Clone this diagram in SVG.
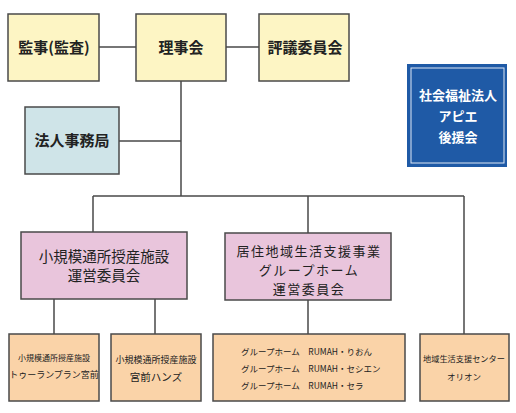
<svg xmlns="http://www.w3.org/2000/svg" width="516" height="413" viewBox="0 0 516 413">
<style>
.box{stroke:#4a4a4a;stroke-width:1.5}
.y{fill:#fdf5c4}.b{fill:#cfe4e8}.p{fill:#e9c5dc}.o{fill:#fad3a8}
.t{font-family:"Noto Sans CJK JP","Noto Sans",sans-serif;fill:#222;text-anchor:middle}
.big{font-size:15px;font-weight:bold}
.mid{font-size:14.5px}
.mid2{font-size:13px;letter-spacing:1.5px}
.sm{font-size:8.5px}
.w{fill:#fff;font-size:13px;font-weight:bold}
.ln{stroke:#4a4a4a;stroke-width:1.5;fill:none}
</style>
<rect width="516" height="413" fill="#fff"/>
<g id="connectors">
<path class="ln" d="M99 47H136M226 47H259M181 81V196M119 141H181M93 196H464M93 196V232M308 196V233M464 196V334M54 299V334M155 299V334M308 300V334"/>
</g>
<g id="kanji"><rect class="box y" x="8" y="14" width="91" height="67"/><text class="t big" x="54" y="53">監事(監査)</text></g>
<g id="rijikai"><rect class="box y" x="136" y="14" width="90" height="67"/><text class="t big" x="181" y="53">理事会</text></g>
<g id="hyogi"><rect class="box y" x="259" y="14" width="90" height="67"/><text class="t big" x="305" y="53">評議委員会</text></g>
<g id="jimukyoku"><rect class="box b" x="25" y="107" width="94" height="67"/><text class="t big" x="72" y="146">法人事務局</text></g>
<g id="koenkai"><rect x="407" y="64" width="100" height="103" fill="#1f5aa6"/><rect x="411" y="68" width="93" height="95" fill="none" stroke="#dfe8f5" stroke-width="1"/>
<text class="t w" x="458" y="100">社会福祉法人</text><text class="t w" x="458" y="121">アピエ</text><text class="t w" x="458" y="142">後援会</text></g>
<g id="jusan-iinkai"><rect class="box p" x="21" y="232" width="166" height="67"/><text class="t mid" x="104" y="262">小規模通所授産施設</text><text class="t mid" x="104" y="281">運営委員会</text></g>
<g id="gh-iinkai"><rect class="box p" x="225" y="233" width="166" height="67"/><text class="t mid2" x="309" y="256">居住地域生活支援事業</text><text class="t mid2" x="309" y="275">グループホーム</text><text class="t mid2" x="309" y="294">運営委員会</text></g>
<g id="tourunpuran"><rect class="box o" x="9" y="334" width="90" height="67"/><text class="t" style="font-size:8px" x="54" y="361">小規模通所授産施設</text><text class="t" style="font-size:9px" x="54" y="378">トゥーランプラン宮前</text></g>
<g id="hanzu"><rect class="box o" x="111" y="334" width="90" height="67"/><text class="t" style="font-size:9px" x="156" y="363">小規模通所授産施設</text><text class="t" style="font-size:10.5px" x="156" y="381">宮前ハンズ</text></g>
<g id="rumah"><rect class="box o" x="213" y="334" width="192" height="67"/>
<text class="t sm" style="text-anchor:start" x="241" y="355">グループホーム　RUMAH・りおん</text>
<text class="t sm" style="text-anchor:start" x="241" y="372">グループホーム　RUMAH・セシエン</text>
<text class="t sm" style="text-anchor:start" x="241" y="389">グループホーム　RUMAH・セラ</text></g>
<g id="orion"><rect class="box o" x="420" y="334" width="89" height="67"/><text class="t" style="font-size:8.2px" x="464" y="362">地域生活支援センター</text><text class="t sm" x="464" y="380">オリオン</text></g>
</svg>
